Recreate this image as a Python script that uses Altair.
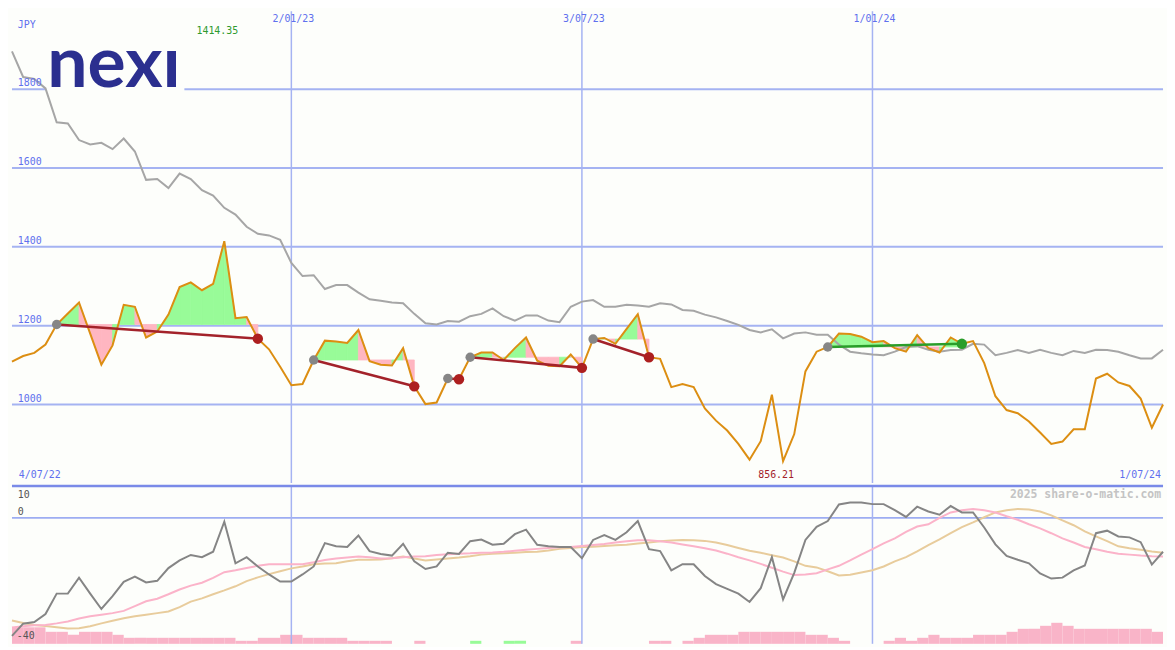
import altair as alt
import pandas as pd

# ---------------- data (weekly, week 0 = 11 Jul 2022, week 103 = 1 Jul 2024) ----------------
price = [1109, 1123, 1131, 1152, 1203, 1231, 1259, 1180, 1101, 1150,
         1253, 1248, 1170, 1185, 1228, 1298, 1310, 1290, 1306, 1414.35,
         1219, 1222, 1167, 1140, 1096, 1049, 1052, 1113, 1162, 1160,
         1156, 1189, 1110, 1101, 1099, 1143, 1046, 1001, 1005, 1066,
         1064, 1120, 1132, 1132, 1113, 1143, 1170, 1111, 1098, 1097,
         1127, 1093, 1166, 1169, 1154, 1192, 1229, 1120, 1116, 1044,
         1052, 1044, 990, 959, 934, 900, 860, 907, 1025, 856.21,
         925, 1084, 1134, 1146, 1180, 1179, 1172, 1158, 1161, 1143,
         1134, 1176, 1143, 1132, 1170, 1154, 1161, 1105, 1021, 986,
         978, 957, 929, 900, 906, 937, 937, 1066, 1078, 1056,
         1047, 1015, 941, 1000]

ma40 = [1896, 1831, 1826, 1802, 1716, 1713, 1671, 1660, 1664, 1648,
        1675, 1642, 1570, 1572, 1549, 1586, 1572, 1544, 1530, 1499,
        1482, 1451, 1433, 1429, 1418, 1359, 1326, 1328, 1293, 1303,
        1303, 1284, 1267, 1263, 1259, 1257, 1230, 1206, 1203, 1212,
        1210, 1224, 1230, 1244, 1224, 1213, 1226, 1226, 1213, 1209,
        1248, 1261, 1265, 1248, 1248, 1253, 1251, 1248, 1257, 1254,
        1240, 1238, 1228, 1221, 1212, 1202, 1189, 1183, 1191, 1168,
        1180, 1183, 1177, 1177, 1152, 1134, 1130, 1127, 1125, 1134,
        1146, 1148, 1139, 1134, 1138, 1139, 1154, 1152, 1125, 1131,
        1138, 1131, 1139, 1131, 1125, 1136, 1131, 1139, 1138, 1134,
        1125, 1117, 1117, 1139]

osc = [-36.9, -33.1, -32.6, -30.1, -23.7, -23.7, -18.7, -23.7, -28.5, -24.5,
       -20.0, -18.4, -20.2, -19.7, -15.7, -13.3, -11.6, -12.3, -10.6, -1.2,
       -14.2, -12.3, -15.2, -17.7, -19.9, -19.9, -17.7, -15.2, -7.9, -8.9,
       -9.1, -5.5, -10.4, -11.3, -11.8, -8.1, -13.6, -16.0, -15.2, -10.9,
       -11.3, -7.3, -6.8, -8.4, -8.1, -5.1, -3.7, -8.4, -8.9, -9.1,
       -9.1, -12.6, -6.9, -5.4, -6.9, -4.5, -1.0, -9.8, -10.4, -16.4,
       -14.5, -14.5, -18.2, -20.7, -22.2, -23.7, -26.3, -22.0, -12.3, -25.5,
       -17.2, -6.9, -2.8, -1.0, 4.2, 4.8, 4.8, 4.3, 4.3, 2.4,
       0.3, 3.5, 2.0, 1.0, 3.7, 1.7, 1.7, -3.0, -8.3, -11.9,
       -13.1, -14.2, -17.4, -19.0, -18.7, -16.4, -14.9, -4.8, -4.0, -5.8,
       -6.1, -7.6, -14.6, -10.6]

osc_fast = [-34.3, -33.9, -33.6, -33.5, -33.0, -32.4, -31.5, -30.8, -30.3, -29.8,
            -29.1, -27.6, -26.1, -25.3, -23.9, -22.4, -21.2, -20.3, -18.8, -17.0,
            -16.4, -15.7, -15.0, -14.5, -14.5, -14.5, -14.5, -13.9, -13.2, -12.7,
            -12.4, -12.1, -12.3, -12.7, -12.6, -12.3, -12.1, -12.0, -11.6, -11.4,
            -11.2, -11.1, -10.9, -10.8, -10.6, -10.3, -10.0, -9.7, -9.4, -9.2,
            -9.1, -8.8, -8.5, -8.2, -7.7, -7.3, -7.0, -7.0, -7.3, -7.7,
            -8.3, -8.9, -9.5, -10.2, -11.2, -12.3, -13.3, -14.4, -15.6, -16.8,
            -17.9, -17.7, -17.3, -16.1, -15.0, -13.3, -11.5, -9.8, -8.0, -6.4,
            -4.4, -2.7, -2.0, 0.0, 1.7, 2.4, 2.8, 2.4, 1.7, 0.5,
            -0.6, -2.0, -3.3, -4.8, -6.4, -7.7, -9.1, -9.8, -10.6, -11.2,
            -11.5, -11.8, -12.0, -12.1]

osc_slow = [-32.1, -32.9, -33.5, -33.8, -34.2, -34.6, -34.5, -33.9, -33.0, -32.2,
            -31.4, -30.8, -30.3, -29.8, -29.3, -27.9, -26.2, -25.2, -23.9, -22.7,
            -21.4, -19.8, -18.6, -17.6, -16.7, -15.8, -15.2, -14.5, -14.3, -14.2,
            -13.6, -13.1, -13.1, -13.0, -12.6, -12.1, -12.7, -13.3, -13.0, -12.7,
            -12.4, -12.0, -11.5, -11.2, -11.1, -10.9, -10.7, -10.6, -10.2, -9.7,
            -9.4, -9.1, -9.0, -8.8, -8.6, -8.4, -8.0, -7.7, -7.3, -7.1,
            -6.9, -7.0, -7.2, -7.7, -8.5, -9.4, -10.3, -10.9, -11.7, -12.4,
            -13.6, -15.0, -15.5, -16.7, -18.0, -17.8, -17.1, -16.4, -15.2, -13.6,
            -12.3, -10.5, -8.5, -6.7, -4.8, -2.9, -1.4, 0.2, 1.7, 2.4,
            2.8, 2.6, 2.0, 0.8, -0.8, -2.3, -4.2, -5.8, -7.3, -8.9,
            -9.5, -10.0, -10.5, -10.9]

# histogram between weeks k and k+1 (negative = pink, positive = green)
hist = [-5.5, -5.5, -5.5, -4, -4, -3, -4, -4, -4, -3,
        -2, -2, -2, -2, -2, -2, -2, -2, -2, -2,
        -1, -1, -2, -2, -3, -3, -2, -2, -2, -2,
        -1, -1, -1, -1, 0, 0, -1, 0, 0, 0,
        0, 1, 0, 0, 1, 1, 0, 0, 0, 0,
        -1, 0, 0, 0, 0, 0, 0, -1, -1, 0,
        -1, -2, -3, -3, -3, -4, -4, -4, -4, -4,
        -4, -3, -3, -2, -1, 0, 0, 0, -1, -2,
        -1, -2, -3, -2, -2, -2, -3, -3, -3, -4,
        -5, -5, -6, -7, -6, -5, -5, -5, -5, -5,
        -5, -5, -4]

price_ticks = [1000, 1200, 1400, 1600, 1800]
price_tick_labels = ["1000", "1200", "1400", "1600", "1800"]
grid_weeks = [25, 51, 77]
grid_labels = ["2/01/23", "3/07/23", "1/01/24"]
first_label = "4/07/22"
last_label = "1/07/24"
currency = "JPY"

trend_start = [4, 27, 39, 41, 52, 73]
trend_end = [22, 36, 40, 51, 57, 85]
trend_dir = ["down", "down", "down", "down", "down", "up"]

# ---------------- layout / styles ----------------
W = 1159
SX = W / 1175
SY = 634 / 650
H_TOP = 475
H_BOT = 159

BG = "#fdfefb"
GRID = "#a5b3f2"
BORDER = "#7a8ae8"
LABEL = "#5f70ee"
MONO = "DejaVu Sans Mono"
FILL_UP, FILL_DOWN = "#98fb98", "#ffb6c1"
LINE_COL = {"down": "#a3222a", "up": "#2a9d2a"}
END_COL = {"down": "#ad1f1f", "up": "#2a9d2a"}

weeks = list(range(len(price)))
df = pd.DataFrame({"week": weeks, "price": price, "ma": ma40,
                   "osc": osc, "fast": osc_fast, "slow": osc_slow})

rows = []
sid = 0
for s, e in zip(trend_start, trend_end):
    base = price[s]
    for i in range(s, e):
        col = FILL_UP if price[i + 1] > base else FILL_DOWN
        for j in (i, i + 1):
            rows.append({"seg": sid, "week": j, "price": price[j], "base": base, "col": col})
        sid += 1
fill_df = pd.DataFrame(rows)

trend_df = pd.DataFrame({
    "s": trend_start, "e": trend_end,
    "lcol": [LINE_COL[d] for d in trend_dir], "ecol": [END_COL[d] for d in trend_dir],
    "ps": [price[s] for s in trend_start], "pe": [price[e] for e in trend_end],
})

xs = alt.Scale(domain=[0, 103], nice=False, zero=False)
ys = alt.Scale(domain=[801, 1998], nice=False, zero=False)
os_ = alt.Scale(domain=[-39.4, 10], nice=False, zero=False)

X = lambda f: alt.X(f, scale=xs, axis=None)
Y = lambda f: alt.Y(f, scale=ys, axis=None)
YO = lambda f: alt.Y(f, scale=os_, axis=None)

one = pd.DataFrame({"a": [0]})

# ---------------- top panel ----------------
tick_df = pd.DataFrame({"v": price_ticks, "label": price_tick_labels})
grid_df = pd.DataFrame({"w": grid_weeks, "label": grid_labels})

hgrid = alt.Chart(tick_df).mark_rule(color=GRID, strokeWidth=2).encode(y=Y("v:Q"))
vgrid = alt.Chart(grid_df).mark_rule(color=GRID, strokeWidth=1.5).encode(x=X("w:Q"))
logo_box = alt.Chart(one).mark_rect(color=BG).encode(
    x=alt.value(34 * SX), x2=alt.value(176 * SX), y=alt.value(34 * SY), y2=alt.value(84 * SY))
logo = alt.Chart(one).mark_text(text="nexı", font="Lato", fontSize=72, fontWeight="bold",
                                color="#2b2f8f", align="left", baseline="alphabetic").encode(
    x=alt.value(36 * SX), y=alt.value(78 * SY))

fills = alt.Chart(fill_df).mark_area(opacity=1, orient="vertical", strokeWidth=0.8).encode(
    x=X("week:Q"),
    y=alt.Y("price:Q", scale=ys, axis=None, stack=None),
    y2=alt.Y2("base:Q"),
    color=alt.Color("col:N", scale=None),
    stroke=alt.Stroke("col:N", scale=None),
    detail="seg:N")

ma_line = alt.Chart(df).mark_line(color="#a6a6a6", strokeWidth=2).encode(x=X("week:Q"), y=Y("ma:Q"))
price_line = alt.Chart(df).mark_line(color="#dc8e12", strokeWidth=2).encode(x=X("week:Q"), y=Y("price:Q"))

trend_lines = alt.Chart(trend_df).mark_rule(strokeWidth=2.6).encode(
    x=X("s:Q"), x2="e:Q", y=Y("ps:Q"), y2="pe:Q",
    color=alt.Color("lcol:N", scale=None))
start_pts = alt.Chart(trend_df).mark_circle(size=90, opacity=1, color="#868686").encode(
    x=X("s:Q"), y=Y("ps:Q"))
end_pts = alt.Chart(trend_df).mark_circle(size=110, opacity=1).encode(
    x=X("e:Q"), y=Y("pe:Q"), color=alt.Color("ecol:N", scale=None))

ptick_text = alt.Chart(tick_df).mark_text(font=MONO, fontSize=10, color=LABEL, align="left",
                                          baseline="middle", dy=-6).encode(
    x=alt.value(6 * SX), y=Y("v:Q"), text="label:N")
date_text = alt.Chart(grid_df).mark_text(font=MONO, fontSize=10, color=LABEL, align="center",
                                         baseline="middle", dx=2).encode(
    x=X("w:Q"), y=alt.value(8 * SY), text="label:N")
jpy_text = alt.Chart(one).mark_text(font=MONO, fontSize=10, color=LABEL, align="left",
                                    baseline="middle", text=currency).encode(
    x=alt.value(6 * SX), y=alt.value(14 * SY))
first_text = alt.Chart(one).mark_text(font=MONO, fontSize=10, color=LABEL, align="left",
                                      baseline="middle", text=first_label).encode(
    x=alt.value(7 * SX), y=alt.value(479 * SY))
last_text = alt.Chart(one).mark_text(font=MONO, fontSize=10, color=LABEL, align="right",
                                     baseline="middle", text=last_label).encode(
    x=alt.value(1173 * SX), y=alt.value(479 * SY))

imax = price.index(max(price))
imin = price.index(min(price))
max_df = pd.DataFrame({"w": [imax], "label": [f"{price[imax]:.2f}"]})
min_df = pd.DataFrame({"w": [imin], "label": [f"{price[imin]:.2f}"]})
max_text = alt.Chart(max_df).mark_text(font=MONO, fontSize=10, color="#2f9a2f",
                                       align="center", baseline="middle", dx=-7).encode(
    x=X("w:Q"), y=alt.value(20 * SY), text="label:N")
min_text = alt.Chart(min_df).mark_text(font=MONO, fontSize=10, color="#a3222a",
                                       align="center", baseline="middle", dx=-7).encode(
    x=X("w:Q"), y=alt.value(479 * SY), text="label:N")

top = alt.layer(hgrid, vgrid, logo_box, logo, fills, ma_line, price_line, trend_lines,
                start_pts, end_pts, ptick_text, date_text, jpy_text, first_text, last_text,
                max_text, min_text).properties(width=W, height=H_TOP)

# ---------------- bottom panel ----------------
bar_df = pd.DataFrame({"k": list(range(len(hist))), "h": hist})
bar_df = bar_df[bar_df["h"] != 0].copy()
bar_df["k1"] = bar_df["k"] + 1
bar_df["hh"] = bar_df["h"].abs()
bar_df["z"] = 0
bar_df["col"] = ["#98fb98" if v > 0 else "#f9b4c8" for v in bar_df["h"]]

bars = alt.Chart(bar_df).mark_rect().encode(
    x=X("k:Q"), x2="k1:Q",
    y=alt.Y("hh:Q", scale=alt.Scale(domain=[0, 52.6], nice=False, zero=False), axis=None), y2="z:Q",
    color=alt.Color("col:N", scale=None))

zero_df = pd.DataFrame({"v": [0]})
top_df = pd.DataFrame({"v": [10]})
zero_line = alt.Chart(zero_df).mark_rule(color="#9dadf2", strokeWidth=2).encode(y=YO("v:Q"))
top_line = alt.Chart(top_df).mark_rule(color=BORDER, strokeWidth=2.5).encode(y=YO("v:Q"))
vgrid_b = alt.Chart(grid_df).mark_rule(color=GRID, strokeWidth=1.5).encode(x=X("w:Q"))

slow_line = alt.Chart(df).mark_line(color="#e8cc9c", strokeWidth=2).encode(x=X("week:Q"), y=YO("slow:Q"))
fast_line = alt.Chart(df).mark_line(color="#fbb3c9", strokeWidth=2).encode(x=X("week:Q"), y=YO("fast:Q"))
osc_line = alt.Chart(df).mark_line(color="#858585", strokeWidth=2).encode(x=X("week:Q"), y=YO("osc:Q"))

t10 = alt.Chart(one).mark_text(font=MONO, fontSize=10, color="#555555", align="left",
                               baseline="middle", text="10").encode(x=alt.value(6 * SX), y=alt.value(9 * SY))
t0 = alt.Chart(one).mark_text(font=MONO, fontSize=10, color="#555555", align="left",
                              baseline="middle", text="0").encode(x=alt.value(6 * SX), y=alt.value(27 * SY))
t40 = alt.Chart(one).mark_text(font=MONO, fontSize=10, color="#555555", align="left",
                               baseline="middle", text="-40").encode(x=alt.value(5 * SX), y=alt.value(155 * SY))
wm = alt.Chart(one).mark_text(font=MONO, fontSize=11.5, fontWeight="bold", color="#c4c4c4",
                              align="right", baseline="middle", text="2025 share-o-matic.com").encode(
    x=alt.value(1173 * SX), y=alt.value(9 * SY))

bottom = alt.layer(bars, zero_line, vgrid_b, slow_line, fast_line, osc_line, top_line,
                   t10, t0, t40, wm).resolve_scale(y="independent").properties(width=W, height=H_BOT)

chart = alt.vconcat(top, bottom, spacing=0).properties(
    padding=0, background=BG
).configure_view(stroke=None)

chart.save("out.html", embed_options={"renderer": "svg", "actions": False})
